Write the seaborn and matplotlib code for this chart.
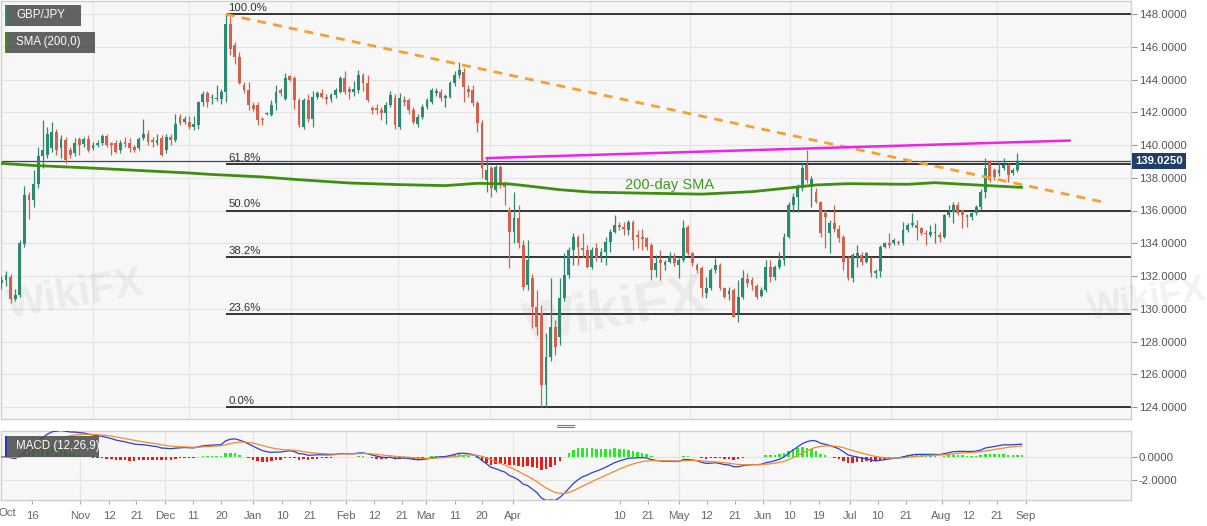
import numpy as np
import pandas as pd
import matplotlib.pyplot as plt
import seaborn as sns
from matplotlib.lines import Line2D
from matplotlib.patches import Rectangle

sns.set_theme(style='white')
plt.rcParams['font.family'] = ['Liberation Sans', 'DejaVu Sans']

# ---- GBP/JPY daily candles, 2019-10-04 .. 2020-08-12 ----
opens = [
    131.55, 131.75, 131.96, 130.6, 130.85, 133.95, 136.95, 136.64, 137.6, 139.3,
    139.4, 139.8, 140.8, 139.8, 140.3, 139.7, 139.5, 140.35, 140.05, 140.35,
    139.8, 140.0, 140.1, 140.55, 140.1, 140.1, 139.7, 140.2, 140.1, 139.86,
    139.8, 140.4, 140.7, 140.3, 140.15, 140.4, 139.7, 140.5, 140.3, 141.7,
    141.4, 141.4, 141.1, 141.2, 142.65, 143.15, 142.85, 142.8, 142.8, 143.25,
    147.4, 146.1, 145.4, 143.67, 143.36, 142.44, 142.44, 141.6, 141.9, 141.83,
    142.54, 143.36, 142.8, 144.22, 144.07, 142.75, 141.12, 142.75, 141.6, 142.91,
    143.16, 142.95, 142.79, 143.05, 143.26, 144.07, 143.4, 143.26, 143.36, 144.27,
    143.77, 142.24, 142.24, 142.14, 141.93, 142.44, 142.85, 141.12, 142.75, 142.75,
    142.14, 141.28, 141.73, 142.34, 142.65, 143.16, 143.26, 142.85, 142.95, 143.77,
    144.27, 144.48, 143.4, 143.36, 142.55, 141.32, 137.86, 138.57, 137.25, 138.64,
    137.66, 136.03, 134.71, 135.52, 133.89, 131.45, 131.86, 130.13, 129.72, 125.34,
    127.07, 128.91, 128.3, 130.63, 132.06, 133.59, 134.4, 133.69, 133.59, 132.57,
    133.69, 133.18, 133.49, 134.1, 134.71, 135.11, 135.0, 134.81, 135.32, 134.5,
    134.4, 134.3, 133.89, 132.37, 132.98, 132.67, 132.88, 133.18, 132.67, 132.98,
    135.01, 133.39, 132.67, 132.47, 130.94, 131.25, 132.37, 132.67, 131.25, 130.9,
    131.15, 129.72, 130.74, 131.8, 131.76, 131.4, 130.8, 131.15, 132.53, 131.96,
    132.53, 132.98, 134.4, 136.34, 136.85, 137.35, 138.78, 137.46, 137.15, 136.54,
    135.83, 134.61, 135.22, 134.85, 134.4, 133.08, 131.86, 133.18, 133.28, 132.88,
    133.08, 132.16, 132.3, 133.79, 134.0, 133.99, 134.1, 133.99, 134.81, 135.12,
    135.12, 134.91, 134.65, 134.5, 134.6, 134.5, 134.4, 135.73, 135.93, 136.34,
    136.03, 135.73, 135.62, 135.83, 136.24, 137.15, 138.98, 138.47, 138.27, 138.58,
    138.78, 138.27, 138.47, 138.98,
]
highs = [
    132.0, 132.3, 132.1, 131.2, 134.2, 137.5, 137.1, 138.5, 139.9, 141.5,
    141.1, 141.4, 141.0, 140.6, 140.5, 139.9, 140.4, 140.5, 140.5, 140.6,
    140.2, 140.3, 140.7, 140.7, 140.2, 140.3, 140.3, 140.5, 140.4, 140.0,
    140.5, 141.6, 140.9, 140.5, 140.7, 140.6, 140.7, 140.7, 141.9, 141.9,
    141.8, 141.8, 141.8, 142.7, 143.3, 143.3, 143.1, 143.66, 143.4, 148.0,
    147.8, 146.3, 145.7, 143.87, 143.87, 142.6, 142.6, 141.73, 142.0, 142.75,
    143.66, 143.5, 144.38, 144.3, 144.2, 142.9, 142.9, 143.1, 143.3, 143.3,
    143.4, 143.1, 143.2, 143.5, 144.2, 144.5, 143.6, 143.9, 144.6, 144.4,
    144.3, 142.4, 142.5, 142.3, 142.6, 143.3, 143.1, 143.2, 143.0, 142.9,
    142.3, 141.9, 142.5, 142.9, 143.5, 143.5, 143.4, 143.1, 143.9, 144.5,
    145.09, 144.68, 143.66, 143.66, 142.7, 141.5, 139.2, 138.7, 138.8, 138.8,
    137.8, 136.2, 137.15, 136.34, 134.2, 134.2, 132.1, 131.14, 130.2, 128.5,
    131.86, 129.3, 131.86, 133.38, 133.79, 134.61, 134.5, 134.61, 133.9, 133.8,
    133.99, 133.7, 134.4, 134.9, 135.73, 135.3, 135.32, 135.42, 135.42, 134.81,
    134.9, 134.4, 134.0, 133.28, 133.59, 133.0, 133.49, 133.39, 133.1, 135.42,
    135.1, 133.49, 132.8, 132.6, 131.96, 132.47, 133.08, 132.8, 131.35, 131.35,
    131.25, 131.76, 132.37, 132.16, 131.96, 131.5, 131.3, 132.98, 132.98, 132.7,
    133.49, 134.6, 136.5, 137.05, 137.6, 138.9, 139.72, 138.1, 137.35, 136.6,
    136.03, 135.4, 136.34, 135.1, 134.5, 133.2, 133.4, 133.89, 133.49, 133.49,
    133.18, 132.4, 133.9, 134.1, 134.6, 134.3, 134.2, 135.3, 135.22, 135.83,
    135.42, 135.0, 134.81, 135.12, 135.22, 134.7, 135.8, 136.34, 136.5, 136.54,
    136.1, 135.8, 135.93, 136.34, 137.3, 139.19, 139.1, 138.6, 138.98, 139.19,
    138.9, 138.6, 139.49, 139.08,
]
lows = [
    131.2, 131.4, 130.34, 130.45, 130.7, 133.8, 135.5, 136.2, 137.4, 138.6,
    139.2, 139.6, 139.4, 139.2, 138.9, 139.2, 139.3, 139.4, 139.9, 139.6,
    139.7, 139.9, 140.0, 139.9, 139.4, 139.5, 139.5, 139.9, 139.6, 139.6,
    139.7, 140.3, 140.0, 139.9, 140.0, 139.3, 139.5, 140.0, 140.2, 141.2,
    141.3, 141.0, 140.9, 141.0, 142.4, 142.35, 142.5, 142.7, 142.5, 142.6,
    145.5, 144.95, 143.7, 143.15, 142.14, 142.05, 141.2, 141.22, 141.85, 141.78,
    142.14, 143.0, 142.75, 143.9, 142.2, 141.1, 141.0, 141.4, 141.1, 142.8,
    142.85, 142.5, 142.6, 142.9, 143.2, 143.1, 142.8, 143.0, 143.2, 143.3,
    142.6, 141.9, 141.9, 141.5, 141.3, 142.3, 141.0, 141.0, 142.4, 141.9,
    141.3, 141.1, 141.6, 142.2, 142.5, 143.0, 142.7, 142.34, 142.9, 143.6,
    144.1, 142.65, 142.95, 142.4, 140.81, 137.96, 137.15, 136.84, 137.1, 137.35,
    136.34, 132.47, 133.99, 133.7, 131.14, 131.14, 128.8, 128.4, 124.0, 124.02,
    126.8, 127.18, 127.79, 130.5, 131.9, 132.67, 132.67, 133.18, 132.47, 132.4,
    132.9, 132.88, 132.67, 133.49, 134.6, 134.8, 134.5, 134.5, 133.59, 133.7,
    133.6, 133.6, 131.76, 131.96, 131.76, 132.37, 132.77, 132.6, 131.86, 132.88,
    133.28, 132.6, 132.2, 130.74, 130.64, 131.15, 132.2, 131.15, 130.64, 130.53,
    129.5, 129.21, 130.6, 131.35, 131.15, 130.6, 130.7, 131.0, 131.65, 131.76,
    132.4, 132.67, 134.3, 135.93, 135.93, 137.2, 137.66, 136.24, 136.44, 134.4,
    133.69, 133.38, 134.7, 134.1, 132.37, 131.76, 131.65, 132.57, 132.67, 132.8,
    131.96, 131.86, 131.96, 133.7, 133.69, 133.9, 133.9, 133.9, 134.71, 135.0,
    134.2, 134.5, 133.89, 134.4, 134.0, 134.1, 134.35, 135.6, 135.22, 135.7,
    134.91, 135.01, 135.42, 135.7, 136.03, 136.74, 137.76, 137.86, 138.1, 138.5,
    137.76, 138.17, 138.37, 138.95,
]
closes = [
    131.75, 132.05, 130.6, 130.85, 133.99, 136.95, 136.64, 137.6, 139.3, 139.7,
    140.7, 140.8, 139.7, 140.35, 139.1, 139.4, 140.15, 140.0, 140.35, 139.7,
    140.0, 140.15, 140.55, 140.0, 140.0, 139.6, 140.15, 140.05, 139.8, 139.7,
    140.35, 140.7, 140.2, 140.2, 140.3, 139.4, 140.5, 140.3, 141.3, 141.35,
    141.6, 141.1, 141.3, 142.6, 143.1, 142.65, 142.95, 142.9, 143.25, 147.4,
    145.84, 145.4, 143.77, 143.36, 142.44, 142.2, 141.52, 141.5, 141.95, 142.44,
    143.26, 143.15, 144.07, 144.0, 142.75, 141.22, 142.75, 141.6, 142.91, 143.16,
    142.95, 142.79, 143.05, 143.36, 144.07, 143.26, 143.26, 143.4, 144.27, 143.77,
    142.75, 142.14, 142.14, 141.93, 142.44, 143.05, 141.22, 142.85, 142.65, 142.14,
    141.43, 141.73, 142.34, 142.75, 143.36, 143.3, 142.85, 142.99, 143.77, 144.27,
    144.58, 143.56, 143.26, 142.55, 141.32, 138.57, 138.47, 137.35, 138.64, 137.66,
    137.45, 134.71, 135.52, 133.99, 131.35, 132.98, 130.13, 128.91, 125.34, 127.07,
    128.91, 127.68, 130.63, 132.06, 133.59, 134.4, 133.79, 133.59, 132.57, 133.59,
    133.08, 133.49, 134.1, 134.71, 135.11, 134.97, 134.85, 135.32, 134.2, 134.4,
    134.25, 133.79, 132.37, 132.77, 132.77, 132.88, 133.18, 132.77, 132.98, 134.91,
    133.39, 132.77, 132.37, 131.25, 131.25, 132.37, 132.67, 131.25, 130.74, 131.1,
    129.52, 130.74, 131.86, 131.55, 131.45, 130.74, 131.15, 132.53, 131.96, 132.53,
    132.98, 134.4, 136.34, 136.85, 137.35, 138.6, 137.86, 137.9, 136.54, 134.61,
    135.62, 135.22, 134.85, 134.3, 132.88, 131.86, 133.28, 133.38, 132.88, 133.38,
    132.16, 132.3, 133.79, 134.0, 133.89, 134.2, 134.0, 134.81, 135.12, 135.22,
    134.91, 134.61, 134.55, 134.71, 134.7, 134.4, 135.73, 135.93, 136.34, 135.83,
    135.73, 135.62, 135.83, 136.24, 137.15, 138.58, 137.86, 138.07, 138.47, 138.78,
    138.17, 138.5, 138.98, 139.03,
]
last_price = 139.025

# 200-day SMA as read at a set of candles
sma_idx = [0, 7, 19, 41, 46, 57, 65, 76, 87, 97, 104, 111, 115, 122, 129,
           142, 153, 164, 171, 178, 185, 198, 204, 209, 217, 223]
sma_vals = [138.88, 138.75, 138.6, 138.29, 138.2, 138.05, 137.88, 137.68, 137.58,
            137.52, 137.66, 137.62, 137.5, 137.27, 137.12, 137.05, 137.0, 137.15,
            137.35, 137.56, 137.64, 137.6, 137.7, 137.62, 137.5, 137.41]

# Fibonacci retracement of the Dec high / Mar low
fib_labels = ['100.0%', '61.8%', '50.0%', '38.2%', '23.6%', '0.0%']
fib_values = [148.0, 138.83, 136.0, 133.17, 129.66, 124.0]

# trend lines (candle index, price)
falling_idx = [49, 241]
falling_val = [147.98, 136.5]
rising_idx = [106, 233.5]
rising_val = [139.2, 140.27]

tick_labels = ['Oct', '16', 'Nov', '12', '21', 'Dec', '11', '20', 'Jan', '10', '21',
               'Feb', '12', '21', 'Mar', '11', '20', 'Apr', '10', '21', 'May', '12',
               '21', 'Jun', '10', '19', 'Jul', '10', '21', 'Aug', '12', '21', 'Sep']
tick_px = [7, 32, 80, 109, 136, 165, 193, 221, 253, 282, 310, 346, 374, 402, 426,
           455, 482, 513, 620, 648, 679, 707, 735, 763, 790, 819, 850, 878, 906,
           942, 969, 997, 1026]
grid_px_main = [93, 189, 291, 398, 490, 590, 690, 790, 891, 997]
grid_px_macd = [80, 165, 253, 346, 426, 513, 679, 763, 850, 942, 1026]

# ---- layout helpers ----
W, H = 1207, 526
X0, DX = 1.0, 4.58          # pixel of candle 0, pixels per candle
def px2i(p):
    return (np.asarray(p, dtype=float) - X0) / DX

GREEN, RED = '#2b8a6f', '#d4604e'
BG = '#f7f7f7'
EDGE = '#cfcfcf'

df = pd.DataFrame({'open': opens, 'high': highs, 'low': lows, 'close': closes})
df['date'] = pd.bdate_range('2019-10-04', periods=len(df))
df['i'] = np.arange(len(df))

ema12 = df['close'].ewm(span=12, adjust=False).mean()
ema26 = df['close'].ewm(span=26, adjust=False).mean()
df['macd'] = ema12 - ema26
df['signal'] = df['macd'].ewm(span=9, adjust=False).mean()
df['hist'] = df['macd'] - df['signal']

fig = plt.figure(figsize=(W / 100, H / 100), dpi=100)
fig.patch.set_facecolor('white')
ax = fig.add_axes([0.5 / W, 1 - 419 / H, 1130 / W, 418 / H])
axm = fig.add_axes([0.5 / W, 1 - 500 / H, 1130 / W, 69 / H], sharex=ax)

xl = (px2i(0), px2i(1131))
for a in (ax, axm):
    a.set_facecolor(BG)
    for s in a.spines.values():
        s.set_color(EDGE)
        s.set_linewidth(1)

# ---- main panel ----
ax.set_ylim(148 - 405 / 16.375, 148 + 13 / 16.375)
ax.set_xlim(*xl)
for v in np.arange(124, 149, 2):
    ax.axhline(v, color='#e4e4e4', lw=0.8, zorder=0)
for p in px2i(grid_px_main):
    ax.axvline(p, color='#e4e4e4', lw=0.8, zorder=0)

# faint watermarks
for (wx, wy, fs) in [(4, 295, 30), (520, 312, 40), (1085, 300, 26)]:
    fig.text(wx / W, 1 - wy / H, 'WikiFX', fontsize=fs, fontweight='bold',
             color='#888888', alpha=0.11, rotation=10, ha='left', va='center')

o = df['open'].values; c = df['close'].values
up = c >= o
cols = np.where(up, GREEN, RED)
ax.vlines(df['i'], df['low'], df['high'], colors=cols, lw=0.9, zorder=3)
ax.bar(df['i'], np.maximum(np.abs(c - o), 0.07), bottom=np.minimum(o, c),
       width=0.62, color=cols, linewidth=0, zorder=4)

sma_df = pd.DataFrame({'i': sma_idx, 'sma': sma_vals})
sns.lineplot(data=sma_df, x='i', y='sma', ax=ax, color='#3f8e12', lw=2.0, zorder=5)
ax.text(px2i(670), 137.12, '200-day SMA', color='#3e9a1e', fontsize=10.5,
        ha='center', va='bottom', zorder=6)

for lab, v in zip(fib_labels, fib_values):
    ax.hlines(v, falling_idx[0], xl[1], color='black', lw=1.1, zorder=2)
    ax.text(px2i(228), v + 0.08, lab, fontsize=8.2, color='#333333',
            ha='left', va='bottom', zorder=6)

ax.axhline(last_price, color='#2c4a6c', lw=0.9, zorder=2)
ax.plot(falling_idx, falling_val, color='#f5a030', lw=2.0, dashes=(3.2, 2.6), zorder=6)
ax.plot(rising_idx, rising_val, color='#ee22ee', lw=1.8, zorder=6)

ax.yaxis.tick_right()
ax.set_yticks(np.arange(124, 149, 2))
ax.set_yticklabels([f'{v:.4f}' for v in np.arange(124, 149, 2)])
ax.tick_params(axis='y', length=4, width=0.8, color='#999999', pad=2,
               labelsize=8.2, labelcolor='#555555', right=True)
ax.tick_params(axis='x', bottom=False, labelbottom=False)
ax.set_xlabel(''); ax.set_ylabel('')

ax.text(1.004, last_price, f'{last_price:.4f}', transform=ax.get_yaxis_transform(),
        fontsize=8.2, fontweight='bold', color='white', ha='left', va='center',
        zorder=10, clip_on=False,
        bbox=dict(boxstyle='square,pad=0.25', facecolor='#1f3f68', edgecolor='none'))

# legend boxes (top-left and MACD)
def tag(x0, y0, w, h, text, bar_col):
    fig.patches.append(Rectangle((x0 / W, 1 - (y0 + h) / H), w / W, h / H,
                                 transform=fig.transFigure, facecolor='#4d4d4d',
                                 alpha=0.88, edgecolor='none', zorder=20))
    fig.patches.append(Rectangle((x0 / W, 1 - (y0 + h) / H), 2 / W, h / H,
                                 transform=fig.transFigure, facecolor=bar_col,
                                 edgecolor='none', zorder=21))
    fig.text((x0 + 11) / W, 1 - (y0 + h / 2) / H, text, color='white',
             fontsize=8.3, ha='left', va='center', zorder=22)

tag(5, 5, 76, 21, 'GBP/JPY', '#2b8a6f')
tag(5, 32, 90, 21, 'SMA (200,0)', '#3f8e12')
tag(5, 436, 94, 21, 'MACD (12,26,9)', '#2233cc')

# ---- MACD panel ----
axm.set_ylim(-(500 - 457) / 11.5, (457 - 431) / 11.5)
for v in (0, -2):
    axm.axhline(v, color='#e4e4e4', lw=0.8, zorder=0)
for p in px2i(grid_px_macd):
    axm.axvline(p, color='#e4e4e4', lw=0.8, zorder=0)
hc = np.where(df['hist'] >= 0, '#22ee22', '#ee1a1a')
axm.bar(df['i'], df['hist'], width=0.55, color=hc, linewidth=0, zorder=2)
sns.lineplot(data=df, x='i', y='macd', ax=axm, color='#2a40d0', lw=0.9, zorder=3)
sns.lineplot(data=df, x='i', y='signal', ax=axm, color='#f28a30', lw=0.9, zorder=3)
axm.set_xlabel(''); axm.set_ylabel('')
axm.yaxis.tick_right()
axm.set_yticks([0, -2])
axm.set_yticklabels(['0.0000', '-2.0000'])
axm.tick_params(axis='y', length=4, width=0.8, color='#999999', pad=2,
                labelsize=8.2, labelcolor='#555555', right=True)
axm.set_xticks(px2i(tick_px[1:]))
axm.set_xticklabels(tick_labels[1:])
axm.tick_params(axis='x', length=3, width=0.8, color='#aaaaaa', pad=5,
                labelsize=8.2, labelcolor='#666666', bottom=True)
fig.text(tick_px[0] / W, 1 - 513 / H, tick_labels[0], fontsize=8.2, color='#666666',
         ha='center', va='center')

# divider handle between panels
for dy in (-1.2, 1.2):
    fig.add_artist(Line2D([557 / W, 574 / W], [1 - (426 + dy) / H] * 2,
                          color='#777777', lw=0.8))

fig.savefig('out.png', dpi=100)
